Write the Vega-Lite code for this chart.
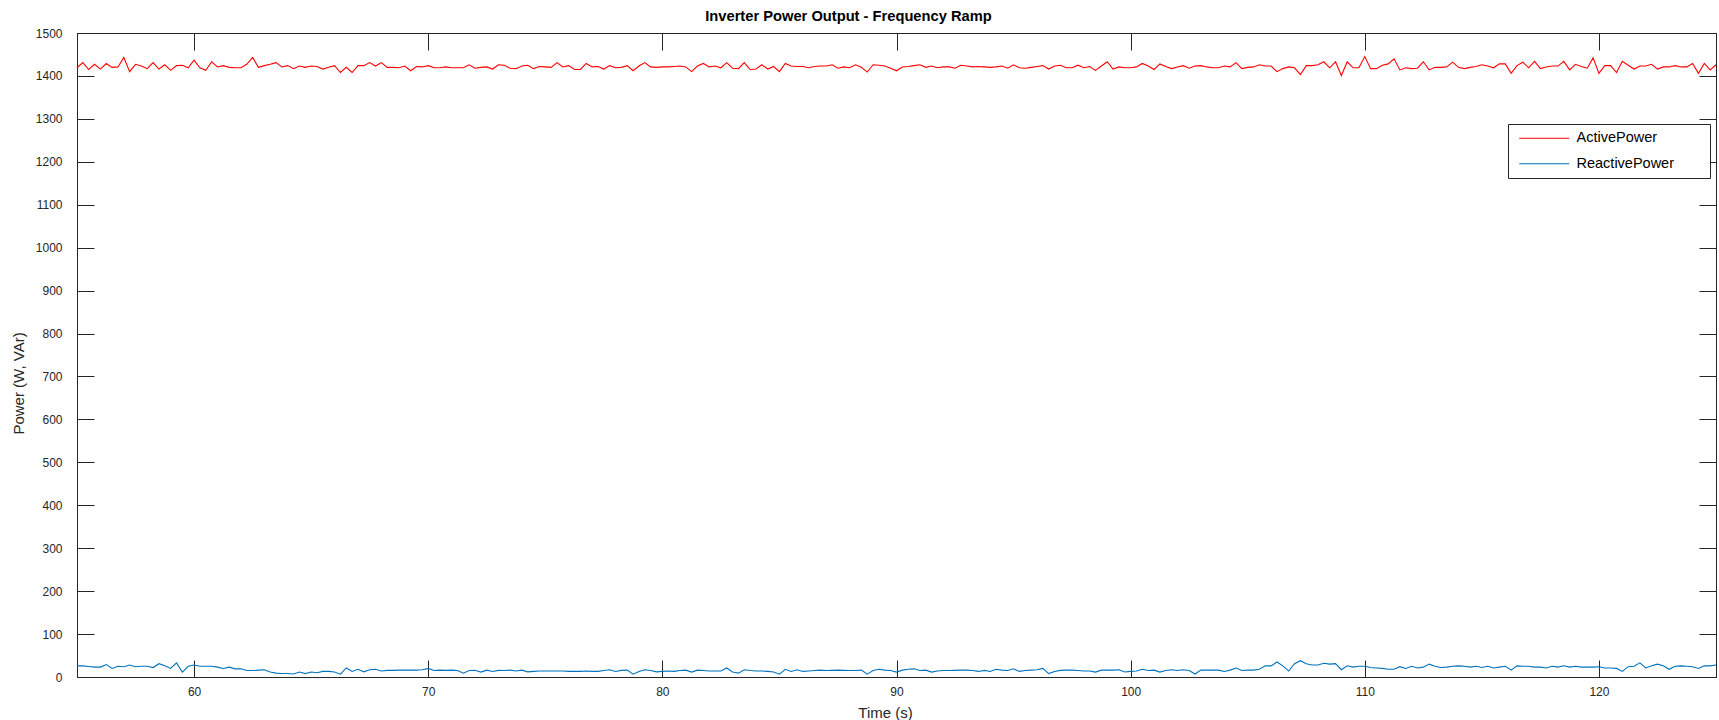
{
  "$schema": "https://vega.github.io/schema/vega-lite/v6.json",
  "width": 1639,
  "height": 644,
  "autosize": {"type": "none"},
  "padding": {"left": 77, "top": 33, "right": 3, "bottom": 43},
  "background": "#ffffff",
  "title": {
    "text": "Inverter Power Output - Frequency Ramp",
    "font": "Liberation Sans",
    "fontSize": 14.7,
    "fontWeight": "bold",
    "color": "#000000",
    "anchor": "middle",
    "offset": 3,
    "dx": -48
  },
  "config": {
    "font": "Liberation Sans",
    "view": {"stroke": "#262626", "strokeWidth": 1},
    "axis": {
      "grid": false,
      "domainColor": "#262626",
      "domainWidth": 1,
      "tickColor": "#262626",
      "tickWidth": 1,
      "tickSize": -17,
      "labelFont": "Liberation Sans",
      "labelFontSize": 12,
      "labelColor": "#262626",
      "labelFlush": false,
      "labelOverlap": false,
      "titleFont": "Liberation Sans",
      "titleFontSize": 15,
      "titleFontWeight": "normal",
      "titleColor": "#262626"
    }
  },
  "data": {
    "values": [
      {"Time": 55, "ActivePower": 1419, "ReactivePower": 26},
      {"Time": 55.25, "ActivePower": 1431, "ReactivePower": 26},
      {"Time": 55.5, "ActivePower": 1415, "ReactivePower": 24.5},
      {"Time": 55.75, "ActivePower": 1427, "ReactivePower": 23},
      {"Time": 56, "ActivePower": 1416, "ReactivePower": 23},
      {"Time": 56.25, "ActivePower": 1429, "ReactivePower": 29},
      {"Time": 56.5, "ActivePower": 1420, "ReactivePower": 20},
      {"Time": 56.75, "ActivePower": 1421, "ReactivePower": 25},
      {"Time": 57, "ActivePower": 1443, "ReactivePower": 24},
      {"Time": 57.25, "ActivePower": 1410, "ReactivePower": 28},
      {"Time": 57.5, "ActivePower": 1427, "ReactivePower": 24},
      {"Time": 57.75, "ActivePower": 1423, "ReactivePower": 25},
      {"Time": 58, "ActivePower": 1417, "ReactivePower": 25},
      {"Time": 58.25, "ActivePower": 1431, "ReactivePower": 22},
      {"Time": 58.5, "ActivePower": 1416, "ReactivePower": 31},
      {"Time": 58.75, "ActivePower": 1426, "ReactivePower": 26},
      {"Time": 59, "ActivePower": 1413, "ReactivePower": 20},
      {"Time": 59.25, "ActivePower": 1424, "ReactivePower": 33},
      {"Time": 59.5, "ActivePower": 1425, "ReactivePower": 11.5},
      {"Time": 59.75, "ActivePower": 1419, "ReactivePower": 25},
      {"Time": 60, "ActivePower": 1437, "ReactivePower": 28},
      {"Time": 60.25, "ActivePower": 1419, "ReactivePower": 25},
      {"Time": 60.5, "ActivePower": 1413, "ReactivePower": 25},
      {"Time": 60.75, "ActivePower": 1433, "ReactivePower": 25},
      {"Time": 61, "ActivePower": 1421, "ReactivePower": 23},
      {"Time": 61.25, "ActivePower": 1424, "ReactivePower": 20},
      {"Time": 61.5, "ActivePower": 1420, "ReactivePower": 23},
      {"Time": 61.75, "ActivePower": 1419, "ReactivePower": 19},
      {"Time": 62, "ActivePower": 1419, "ReactivePower": 19},
      {"Time": 62.25, "ActivePower": 1427, "ReactivePower": 15},
      {"Time": 62.5, "ActivePower": 1443, "ReactivePower": 15},
      {"Time": 62.75, "ActivePower": 1420, "ReactivePower": 16},
      {"Time": 63, "ActivePower": 1424, "ReactivePower": 17},
      {"Time": 63.25, "ActivePower": 1427, "ReactivePower": 11.5},
      {"Time": 63.5, "ActivePower": 1431, "ReactivePower": 9},
      {"Time": 63.75, "ActivePower": 1421, "ReactivePower": 8},
      {"Time": 64, "ActivePower": 1424, "ReactivePower": 8},
      {"Time": 64.25, "ActivePower": 1417, "ReactivePower": 7},
      {"Time": 64.5, "ActivePower": 1423, "ReactivePower": 11.5},
      {"Time": 64.75, "ActivePower": 1420, "ReactivePower": 8},
      {"Time": 65, "ActivePower": 1423, "ReactivePower": 11.5},
      {"Time": 65.25, "ActivePower": 1422, "ReactivePower": 10},
      {"Time": 65.5, "ActivePower": 1416, "ReactivePower": 13},
      {"Time": 65.75, "ActivePower": 1420, "ReactivePower": 13},
      {"Time": 66, "ActivePower": 1424, "ReactivePower": 11.5},
      {"Time": 66.25, "ActivePower": 1408, "ReactivePower": 6.5},
      {"Time": 66.5, "ActivePower": 1420, "ReactivePower": 21},
      {"Time": 66.75, "ActivePower": 1408, "ReactivePower": 13},
      {"Time": 67, "ActivePower": 1424, "ReactivePower": 18},
      {"Time": 67.25, "ActivePower": 1424, "ReactivePower": 12},
      {"Time": 67.5, "ActivePower": 1431, "ReactivePower": 17},
      {"Time": 67.75, "ActivePower": 1423, "ReactivePower": 18},
      {"Time": 68, "ActivePower": 1431, "ReactivePower": 14},
      {"Time": 68.25, "ActivePower": 1420, "ReactivePower": 15.5},
      {"Time": 68.5, "ActivePower": 1420, "ReactivePower": 15.5},
      {"Time": 68.75, "ActivePower": 1419, "ReactivePower": 16},
      {"Time": 69, "ActivePower": 1423, "ReactivePower": 16},
      {"Time": 69.25, "ActivePower": 1412, "ReactivePower": 16},
      {"Time": 69.5, "ActivePower": 1422, "ReactivePower": 16},
      {"Time": 69.75, "ActivePower": 1421, "ReactivePower": 17},
      {"Time": 70, "ActivePower": 1424, "ReactivePower": 20},
      {"Time": 70.25, "ActivePower": 1419, "ReactivePower": 15},
      {"Time": 70.5, "ActivePower": 1419, "ReactivePower": 16},
      {"Time": 70.75, "ActivePower": 1421, "ReactivePower": 15.5},
      {"Time": 71, "ActivePower": 1419, "ReactivePower": 16},
      {"Time": 71.25, "ActivePower": 1419, "ReactivePower": 15},
      {"Time": 71.5, "ActivePower": 1419, "ReactivePower": 9},
      {"Time": 71.75, "ActivePower": 1426, "ReactivePower": 15},
      {"Time": 72, "ActivePower": 1418, "ReactivePower": 15.5},
      {"Time": 72.25, "ActivePower": 1420, "ReactivePower": 11.5},
      {"Time": 72.5, "ActivePower": 1421, "ReactivePower": 16},
      {"Time": 72.75, "ActivePower": 1416, "ReactivePower": 13},
      {"Time": 73, "ActivePower": 1426, "ReactivePower": 15.5},
      {"Time": 73.25, "ActivePower": 1425, "ReactivePower": 15},
      {"Time": 73.5, "ActivePower": 1418, "ReactivePower": 16},
      {"Time": 73.75, "ActivePower": 1417, "ReactivePower": 14},
      {"Time": 74, "ActivePower": 1423, "ReactivePower": 16},
      {"Time": 74.25, "ActivePower": 1425, "ReactivePower": 12},
      {"Time": 74.5, "ActivePower": 1417, "ReactivePower": 13},
      {"Time": 74.75, "ActivePower": 1422, "ReactivePower": 14},
      {"Time": 75, "ActivePower": 1421, "ReactivePower": 14},
      {"Time": 75.25, "ActivePower": 1420, "ReactivePower": 14},
      {"Time": 75.5, "ActivePower": 1431, "ReactivePower": 14},
      {"Time": 75.75, "ActivePower": 1421, "ReactivePower": 14},
      {"Time": 76, "ActivePower": 1424, "ReactivePower": 13},
      {"Time": 76.25, "ActivePower": 1415, "ReactivePower": 13},
      {"Time": 76.5, "ActivePower": 1415, "ReactivePower": 13},
      {"Time": 76.75, "ActivePower": 1429, "ReactivePower": 14},
      {"Time": 77, "ActivePower": 1421, "ReactivePower": 13},
      {"Time": 77.25, "ActivePower": 1422, "ReactivePower": 13},
      {"Time": 77.5, "ActivePower": 1416, "ReactivePower": 15},
      {"Time": 77.75, "ActivePower": 1424, "ReactivePower": 17},
      {"Time": 78, "ActivePower": 1419, "ReactivePower": 13},
      {"Time": 78.25, "ActivePower": 1420, "ReactivePower": 15.5},
      {"Time": 78.5, "ActivePower": 1424, "ReactivePower": 16},
      {"Time": 78.75, "ActivePower": 1412, "ReactivePower": 6.5},
      {"Time": 79, "ActivePower": 1423, "ReactivePower": 13},
      {"Time": 79.25, "ActivePower": 1431, "ReactivePower": 17},
      {"Time": 79.5, "ActivePower": 1421, "ReactivePower": 15},
      {"Time": 79.75, "ActivePower": 1420, "ReactivePower": 12},
      {"Time": 80, "ActivePower": 1421, "ReactivePower": 13},
      {"Time": 80.25, "ActivePower": 1421, "ReactivePower": 14},
      {"Time": 80.5, "ActivePower": 1422, "ReactivePower": 13},
      {"Time": 80.75, "ActivePower": 1423, "ReactivePower": 15},
      {"Time": 81, "ActivePower": 1421, "ReactivePower": 16},
      {"Time": 81.25, "ActivePower": 1410, "ReactivePower": 11.5},
      {"Time": 81.5, "ActivePower": 1423, "ReactivePower": 16},
      {"Time": 81.75, "ActivePower": 1429, "ReactivePower": 15},
      {"Time": 82, "ActivePower": 1421, "ReactivePower": 14},
      {"Time": 82.25, "ActivePower": 1423, "ReactivePower": 14},
      {"Time": 82.5, "ActivePower": 1419, "ReactivePower": 14},
      {"Time": 82.75, "ActivePower": 1431, "ReactivePower": 21},
      {"Time": 83, "ActivePower": 1418, "ReactivePower": 11.5},
      {"Time": 83.25, "ActivePower": 1417, "ReactivePower": 9},
      {"Time": 83.5, "ActivePower": 1431, "ReactivePower": 17},
      {"Time": 83.75, "ActivePower": 1415, "ReactivePower": 15},
      {"Time": 84, "ActivePower": 1416, "ReactivePower": 14},
      {"Time": 84.25, "ActivePower": 1426, "ReactivePower": 14},
      {"Time": 84.5, "ActivePower": 1416, "ReactivePower": 13},
      {"Time": 84.75, "ActivePower": 1422, "ReactivePower": 11.5},
      {"Time": 85, "ActivePower": 1410, "ReactivePower": 6.5},
      {"Time": 85.25, "ActivePower": 1429, "ReactivePower": 18},
      {"Time": 85.5, "ActivePower": 1423, "ReactivePower": 13},
      {"Time": 85.75, "ActivePower": 1422, "ReactivePower": 17},
      {"Time": 86, "ActivePower": 1422, "ReactivePower": 13},
      {"Time": 86.25, "ActivePower": 1419, "ReactivePower": 14},
      {"Time": 86.5, "ActivePower": 1422, "ReactivePower": 15},
      {"Time": 86.75, "ActivePower": 1423, "ReactivePower": 16},
      {"Time": 87, "ActivePower": 1423, "ReactivePower": 15},
      {"Time": 87.25, "ActivePower": 1426, "ReactivePower": 15.5},
      {"Time": 87.5, "ActivePower": 1418, "ReactivePower": 16},
      {"Time": 87.75, "ActivePower": 1421, "ReactivePower": 15.5},
      {"Time": 88, "ActivePower": 1419, "ReactivePower": 15},
      {"Time": 88.25, "ActivePower": 1426, "ReactivePower": 15},
      {"Time": 88.5, "ActivePower": 1420, "ReactivePower": 16},
      {"Time": 88.75, "ActivePower": 1409, "ReactivePower": 6.5},
      {"Time": 89, "ActivePower": 1426, "ReactivePower": 15},
      {"Time": 89.25, "ActivePower": 1425, "ReactivePower": 18},
      {"Time": 89.5, "ActivePower": 1423, "ReactivePower": 16},
      {"Time": 89.75, "ActivePower": 1418, "ReactivePower": 15},
      {"Time": 90, "ActivePower": 1412, "ReactivePower": 11.5},
      {"Time": 90.25, "ActivePower": 1421, "ReactivePower": 16},
      {"Time": 90.5, "ActivePower": 1422, "ReactivePower": 18},
      {"Time": 90.75, "ActivePower": 1424, "ReactivePower": 19},
      {"Time": 91, "ActivePower": 1426, "ReactivePower": 15},
      {"Time": 91.25, "ActivePower": 1420, "ReactivePower": 16},
      {"Time": 91.5, "ActivePower": 1423, "ReactivePower": 11.5},
      {"Time": 91.75, "ActivePower": 1419, "ReactivePower": 14},
      {"Time": 92, "ActivePower": 1421, "ReactivePower": 15},
      {"Time": 92.25, "ActivePower": 1421, "ReactivePower": 15},
      {"Time": 92.5, "ActivePower": 1418, "ReactivePower": 15.5},
      {"Time": 92.75, "ActivePower": 1425, "ReactivePower": 16},
      {"Time": 93, "ActivePower": 1423, "ReactivePower": 16},
      {"Time": 93.25, "ActivePower": 1421, "ReactivePower": 15},
      {"Time": 93.5, "ActivePower": 1422, "ReactivePower": 13},
      {"Time": 93.75, "ActivePower": 1421, "ReactivePower": 15.5},
      {"Time": 94, "ActivePower": 1420, "ReactivePower": 13},
      {"Time": 94.25, "ActivePower": 1421, "ReactivePower": 18},
      {"Time": 94.5, "ActivePower": 1423, "ReactivePower": 16},
      {"Time": 94.75, "ActivePower": 1418, "ReactivePower": 15},
      {"Time": 95, "ActivePower": 1426, "ReactivePower": 19},
      {"Time": 95.25, "ActivePower": 1419, "ReactivePower": 13},
      {"Time": 95.5, "ActivePower": 1418, "ReactivePower": 15},
      {"Time": 95.75, "ActivePower": 1420, "ReactivePower": 16},
      {"Time": 96, "ActivePower": 1422, "ReactivePower": 17},
      {"Time": 96.25, "ActivePower": 1424, "ReactivePower": 20},
      {"Time": 96.5, "ActivePower": 1416, "ReactivePower": 8},
      {"Time": 96.75, "ActivePower": 1423, "ReactivePower": 13},
      {"Time": 97, "ActivePower": 1425, "ReactivePower": 15.5},
      {"Time": 97.25, "ActivePower": 1419, "ReactivePower": 16},
      {"Time": 97.5, "ActivePower": 1419, "ReactivePower": 16},
      {"Time": 97.75, "ActivePower": 1425, "ReactivePower": 15},
      {"Time": 98, "ActivePower": 1419, "ReactivePower": 14},
      {"Time": 98.25, "ActivePower": 1422, "ReactivePower": 14},
      {"Time": 98.5, "ActivePower": 1413, "ReactivePower": 11.5},
      {"Time": 98.75, "ActivePower": 1423, "ReactivePower": 16},
      {"Time": 99, "ActivePower": 1433, "ReactivePower": 16},
      {"Time": 99.25, "ActivePower": 1416, "ReactivePower": 16},
      {"Time": 99.5, "ActivePower": 1421, "ReactivePower": 17},
      {"Time": 99.75, "ActivePower": 1419, "ReactivePower": 11.5},
      {"Time": 100, "ActivePower": 1419, "ReactivePower": 13},
      {"Time": 100.25, "ActivePower": 1421, "ReactivePower": 14},
      {"Time": 100.5, "ActivePower": 1429, "ReactivePower": 18},
      {"Time": 100.75, "ActivePower": 1423, "ReactivePower": 15},
      {"Time": 101, "ActivePower": 1415, "ReactivePower": 16},
      {"Time": 101.25, "ActivePower": 1428, "ReactivePower": 11.5},
      {"Time": 101.5, "ActivePower": 1422, "ReactivePower": 15},
      {"Time": 101.75, "ActivePower": 1417, "ReactivePower": 17},
      {"Time": 102, "ActivePower": 1421, "ReactivePower": 15},
      {"Time": 102.25, "ActivePower": 1424, "ReactivePower": 17},
      {"Time": 102.5, "ActivePower": 1418, "ReactivePower": 15},
      {"Time": 102.75, "ActivePower": 1423, "ReactivePower": 7},
      {"Time": 103, "ActivePower": 1424, "ReactivePower": 16},
      {"Time": 103.25, "ActivePower": 1421, "ReactivePower": 16},
      {"Time": 103.5, "ActivePower": 1419, "ReactivePower": 16},
      {"Time": 103.75, "ActivePower": 1419, "ReactivePower": 16},
      {"Time": 104, "ActivePower": 1423, "ReactivePower": 13},
      {"Time": 104.25, "ActivePower": 1421, "ReactivePower": 16},
      {"Time": 104.5, "ActivePower": 1431, "ReactivePower": 21},
      {"Time": 104.75, "ActivePower": 1417, "ReactivePower": 15},
      {"Time": 105, "ActivePower": 1420, "ReactivePower": 16},
      {"Time": 105.25, "ActivePower": 1421, "ReactivePower": 16},
      {"Time": 105.5, "ActivePower": 1426, "ReactivePower": 18},
      {"Time": 105.75, "ActivePower": 1423, "ReactivePower": 26},
      {"Time": 106, "ActivePower": 1423, "ReactivePower": 26},
      {"Time": 106.25, "ActivePower": 1410, "ReactivePower": 35},
      {"Time": 106.5, "ActivePower": 1417, "ReactivePower": 26},
      {"Time": 106.75, "ActivePower": 1421, "ReactivePower": 14},
      {"Time": 107, "ActivePower": 1419, "ReactivePower": 31},
      {"Time": 107.25, "ActivePower": 1403, "ReactivePower": 38},
      {"Time": 107.5, "ActivePower": 1424, "ReactivePower": 31},
      {"Time": 107.75, "ActivePower": 1424, "ReactivePower": 28},
      {"Time": 108, "ActivePower": 1426, "ReactivePower": 28},
      {"Time": 108.25, "ActivePower": 1433, "ReactivePower": 32},
      {"Time": 108.5, "ActivePower": 1419, "ReactivePower": 30},
      {"Time": 108.75, "ActivePower": 1433, "ReactivePower": 31},
      {"Time": 109, "ActivePower": 1401, "ReactivePower": 17},
      {"Time": 109.25, "ActivePower": 1433, "ReactivePower": 26},
      {"Time": 109.5, "ActivePower": 1419, "ReactivePower": 23},
      {"Time": 109.75, "ActivePower": 1419, "ReactivePower": 25},
      {"Time": 110, "ActivePower": 1445, "ReactivePower": 25},
      {"Time": 110.25, "ActivePower": 1417, "ReactivePower": 22},
      {"Time": 110.5, "ActivePower": 1417, "ReactivePower": 21},
      {"Time": 110.75, "ActivePower": 1425, "ReactivePower": 20},
      {"Time": 111, "ActivePower": 1428, "ReactivePower": 18},
      {"Time": 111.25, "ActivePower": 1440, "ReactivePower": 18},
      {"Time": 111.5, "ActivePower": 1414, "ReactivePower": 24},
      {"Time": 111.75, "ActivePower": 1419, "ReactivePower": 20},
      {"Time": 112, "ActivePower": 1417, "ReactivePower": 25},
      {"Time": 112.25, "ActivePower": 1418, "ReactivePower": 21},
      {"Time": 112.5, "ActivePower": 1433, "ReactivePower": 23},
      {"Time": 112.75, "ActivePower": 1414, "ReactivePower": 30},
      {"Time": 113, "ActivePower": 1420, "ReactivePower": 25},
      {"Time": 113.25, "ActivePower": 1420, "ReactivePower": 22},
      {"Time": 113.5, "ActivePower": 1421, "ReactivePower": 23},
      {"Time": 113.75, "ActivePower": 1432, "ReactivePower": 25},
      {"Time": 114, "ActivePower": 1420, "ReactivePower": 26},
      {"Time": 114.25, "ActivePower": 1417, "ReactivePower": 25},
      {"Time": 114.5, "ActivePower": 1420, "ReactivePower": 23},
      {"Time": 114.75, "ActivePower": 1422, "ReactivePower": 25},
      {"Time": 115, "ActivePower": 1426, "ReactivePower": 22},
      {"Time": 115.25, "ActivePower": 1423, "ReactivePower": 25},
      {"Time": 115.5, "ActivePower": 1419, "ReactivePower": 21},
      {"Time": 115.75, "ActivePower": 1428, "ReactivePower": 23},
      {"Time": 116, "ActivePower": 1428, "ReactivePower": 25},
      {"Time": 116.25, "ActivePower": 1406, "ReactivePower": 16},
      {"Time": 116.5, "ActivePower": 1424, "ReactivePower": 26},
      {"Time": 116.75, "ActivePower": 1432, "ReactivePower": 25},
      {"Time": 117, "ActivePower": 1419, "ReactivePower": 25},
      {"Time": 117.25, "ActivePower": 1434, "ReactivePower": 23},
      {"Time": 117.5, "ActivePower": 1417, "ReactivePower": 23},
      {"Time": 117.75, "ActivePower": 1421, "ReactivePower": 21},
      {"Time": 118, "ActivePower": 1423, "ReactivePower": 25},
      {"Time": 118.25, "ActivePower": 1423, "ReactivePower": 23},
      {"Time": 118.5, "ActivePower": 1434, "ReactivePower": 26},
      {"Time": 118.75, "ActivePower": 1414, "ReactivePower": 23},
      {"Time": 119, "ActivePower": 1427, "ReactivePower": 25},
      {"Time": 119.25, "ActivePower": 1422, "ReactivePower": 23},
      {"Time": 119.5, "ActivePower": 1418, "ReactivePower": 23},
      {"Time": 119.75, "ActivePower": 1442, "ReactivePower": 23},
      {"Time": 120, "ActivePower": 1406, "ReactivePower": 24},
      {"Time": 120.25, "ActivePower": 1424, "ReactivePower": 21},
      {"Time": 120.5, "ActivePower": 1424, "ReactivePower": 21},
      {"Time": 120.75, "ActivePower": 1408, "ReactivePower": 20},
      {"Time": 121, "ActivePower": 1434, "ReactivePower": 13},
      {"Time": 121.25, "ActivePower": 1425, "ReactivePower": 24},
      {"Time": 121.5, "ActivePower": 1416, "ReactivePower": 25},
      {"Time": 121.75, "ActivePower": 1423, "ReactivePower": 33},
      {"Time": 122, "ActivePower": 1423, "ReactivePower": 21},
      {"Time": 122.25, "ActivePower": 1427, "ReactivePower": 26},
      {"Time": 122.5, "ActivePower": 1416, "ReactivePower": 30},
      {"Time": 122.75, "ActivePower": 1421, "ReactivePower": 26},
      {"Time": 123, "ActivePower": 1421, "ReactivePower": 18},
      {"Time": 123.25, "ActivePower": 1424, "ReactivePower": 25},
      {"Time": 123.5, "ActivePower": 1421, "ReactivePower": 26},
      {"Time": 123.75, "ActivePower": 1421, "ReactivePower": 25},
      {"Time": 124, "ActivePower": 1429, "ReactivePower": 24},
      {"Time": 124.25, "ActivePower": 1406, "ReactivePower": 20},
      {"Time": 124.5, "ActivePower": 1429, "ReactivePower": 26},
      {"Time": 124.75, "ActivePower": 1414, "ReactivePower": 26},
      {"Time": 125, "ActivePower": 1426, "ReactivePower": 28}
    ]
  },
  "transform": [
    {"fold": ["ActivePower", "ReactivePower"], "as": ["Series", "Power"]}
  ],
  "layer": [
    {
      "mark": {"type": "line", "strokeWidth": 1.1, "interpolate": "linear"},
      "encoding": {
        "x": {
          "field": "Time",
          "type": "quantitative",
          "scale": {"domain": [55, 125], "nice": false, "zero": false},
          "axis": {
            "orient": "bottom",
            "title": "Time (s)",
            "values": [60, 70, 80, 90, 100, 110, 120],
            "labelPadding": 26,
            "titlePadding": 8,
            "titleX": 808
          }
        },
        "y": {
          "field": "Power",
          "type": "quantitative",
          "scale": {"domain": [0, 1500], "nice": false, "zero": true},
          "axis": {
            "orient": "left",
            "title": "Power (W, VAr)",
            "format": "d",
            "values": [0, 100, 200, 300, 400, 500, 600, 700, 800, 900, 1000, 1100, 1200, 1300, 1400, 1500],
            "labelPadding": 32,
            "titlePadding": 9,
            "titleY": 350
          }
        },
        "color": {
          "field": "Series",
          "type": "nominal",
          "scale": {"domain": ["ActivePower", "ReactivePower"], "range": ["#ff0000", "#0072bd"]},
          "legend": {
            "title": null,
            "orient": "none",
            "legendX": 1431,
            "legendY": 91,
            "direction": "vertical",
            "symbolType": "M-0.6,0H9.4",
            "symbolSize": 100,
            "symbolStrokeWidth": 1,
            "labelFont": "Liberation Sans",
            "labelFontSize": 14.5,
            "labelColor": "#000000",
            "labelOffset": 47,
            "labelLimit": 400,
            "labelExpr": "datum.label + '\u00a0\u00a0\u00a0\u00a0\u00a0\u00a0\u00a0\u200b'",
            "padding": 7,
            "rowPadding": 10.5,
            "strokeColor": "#262626",
            "fillColor": "#ffffff"
          }
        }
      }
    },
    {
      "mark": {"type": "line", "opacity": 0},
      "encoding": {
        "x": {
          "field": "Time",
          "type": "quantitative",
          "axis": {"orient": "top", "title": null, "labels": false, "values": [60, 70, 80, 90, 100, 110, 120]}
        },
        "y": {
          "field": "Power",
          "type": "quantitative",
          "axis": {
            "orient": "right",
            "title": null,
            "labels": false,
            "values": [0, 100, 200, 300, 400, 500, 600, 700, 800, 900, 1000, 1100, 1200, 1300, 1400, 1500]
          }
        },
        "detail": {"field": "Series", "type": "nominal"}
      }
    }
  ],
  "resolve": {"axis": {"x": "independent", "y": "independent"}}
}
